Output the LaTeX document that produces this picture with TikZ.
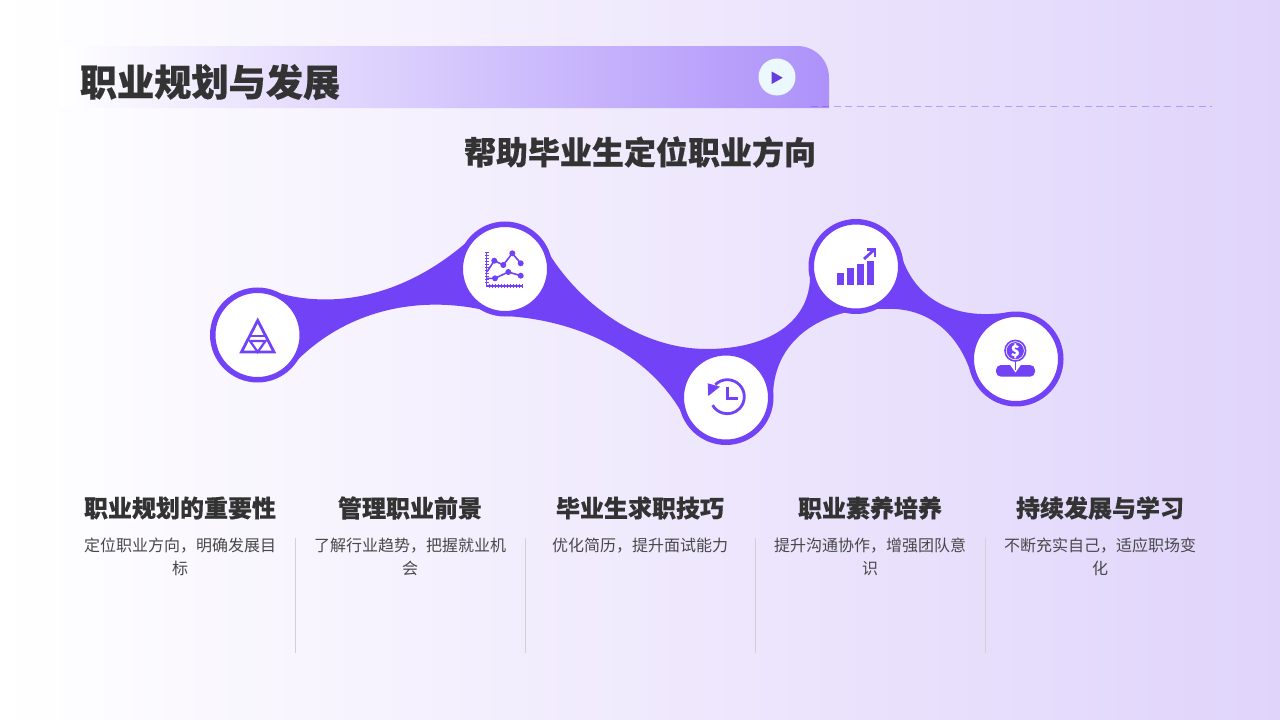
\documentclass[tikz,border=0pt]{standalone}
\usepackage{fontspec}
\setmainfont[BoldFeatures={FakeBold=0.4}]{Noto Sans CJK SC}
\usepackage{tikz}
\usetikzlibrary{positioning}
\usetikzlibrary{calc}
\definecolor{accent}{HTML}{7242F6}
\definecolor{bgmid}{HTML}{F3EFFD}
\definecolor{bgend}{HTML}{E0D4FB}
\definecolor{ink}{HTML}{333333}
\definecolor{bodyink}{HTML}{484848}
\tikzset{
  hub/.style={circle,fill=white,draw=accent,line width=5.5pt,minimum size=89.5pt,inner sep=0pt,outer sep=0pt},
  headtext/.style={font=\fontsize{24}{28}\selectfont\bfseries,text=ink,inner sep=0pt},
  bodytext/.style={font=\fontsize{16}{23}\selectfont,text=bodyink,align=center,inner sep=0pt,anchor=north},
  divider/.style={draw=black!18,line width=.9pt},
  iconline/.style={draw=accent,line width=2.8pt,line join=miter}
}

\begin{document}
\begin{tikzpicture}[x=1pt,y=-1pt]
\useasboundingbox (0,0) rectangle (1280,720);
\shade[left color=white,middle color=bgmid,right color=bgend] (0,0) rectangle (1280,720);
% title banner
\shade[left color=white,right color=accent!58!white] (60,108) -- (60,46) -- (797,46)
  .. controls (815,46) and (829,60) .. (829,78) -- (829,108) -- cycle;
\draw[draw=accent,opacity=.42,line width=1.2pt,dash pattern=on 7pt off 4.4pt] (811,106.5) -- (1212,106.5);
\node[circle,fill=white!92!cyan,minimum size=37pt,inner sep=0pt] (playdot) at (777,77) {};
\fill[accent!90!black] (771.7,71.5) -- (782.7,77.7) -- (771.7,84) -- cycle;
\node[font=\fontsize{37.2}{40}\selectfont\bfseries,text=ink,inner sep=0pt] (maintitle) at (210,82) {职业规划与发展};
\node[font=\fontsize{32}{36}\selectfont\bfseries,text=ink,inner sep=0pt] (subtitle) at (640,152) {帮助毕业生定位职业方向};
% purple band
\fill[accent] (268,289) .. controls (295,301) and (380,318) .. (468,241)
  -- (505,269) -- (540,237)
  .. controls (565,290) and (630,349) .. (707,349)
  .. controls (770,349) and (818,320) .. (809,262)
  -- (856,266) -- (902.5,259)
  .. controls (915,295) and (950,322) .. (1010,312)
  -- (1016,359) -- (971,373)
  .. controls (955,325) and (920,307) .. (885,309)
  .. controls (830,306) and (773,335) .. (773,397)
  -- (726,397) -- (683,415)
  .. controls (650,355) and (580,320) .. (505,316)
  .. controls (440,294) and (350,300) .. (288,370)
  -- cycle;
\node[hub] (hubone) at (257.5,335) {};
\node[hub] (hubtwo) at (505,269) {};
\node[hub] (hubthree) at (726,397.5) {};
\node[hub] (hubfour) at (856,266.5) {};
\node[hub] (hubfive) at (1016,359) {};
% triangle icon
\draw[iconline] (257.7,320.5) -- (241.5,352) -- (274,352) -- cycle;
\draw[iconline,line width=2.2pt] (250,341) -- (265.5,341) -- (257.7,352) -- cycle;
\draw[iconline,line width=2.2pt] (249.7,336) -- (265.7,336);
% line chart icon
\draw[accent,line width=1.4pt] (486.7,251.7) -- (486.7,286) -- (523.3,286);
\draw[accent,line width=4pt,dash pattern=on 1pt off 2pt] (486.7,252) -- (486.7,284);
\draw[accent,line width=4pt,dash pattern=on 1pt off 2pt] (489,286) -- (523.3,286);
\draw[accent,line width=1.6pt] (487,271.7) -- (494.3,260.7) -- (503.3,265) -- (512.3,253.3) -- (520.7,263.3);
\draw[accent,line width=1.6pt] (487,278.3) -- (495,278.3) -- (508.3,272) -- (520.7,275.7);
\fill[accent] (494.3,260.7) circle[radius=3pt] (503.3,265) circle[radius=3pt] (512.3,253.3) circle[radius=3pt] (520.7,263.3) circle[radius=3pt];
\fill[accent] (495,278.3) circle[radius=3pt] (508.3,272) circle[radius=3pt] (520.7,275.7) circle[radius=3pt];
% clock icon
\coordinate (clockmid) at (727.3,396.7);
\draw[accent,line width=2.8pt] ([shift={(135:17pt)}]clockmid) arc[start angle=135,end angle=-150,radius=17pt];
\fill[accent] (707.7,383.3) -- (720,386.7) -- (708.3,396) -- cycle;
\draw[accent,line width=2.6pt] (727.3,386.7) -- (727.3,398.3) -- (738.3,398.3);
% bars icon
\fill[accent] (837,273.3) rectangle (844,285.3);
\fill[accent] (847.3,268.3) rectangle (854,285.3);
\fill[accent] (857.3,264) rectangle (864,285.3);
\fill[accent] (867.3,260.7) rectangle (874,285.3);
\draw[iconline] (864,259) -- (874.5,249.5);
\draw[iconline] (866.5,249.5) -- (875,249.5) -- (875,257);
% money icon
\draw[accent,line width=1.6pt] (1015.3,350.7) circle[radius=10.3pt];
\node[circle,fill=accent,minimum size=15.5pt,inner sep=0pt,text=white,font=\fontsize{15}{15}\selectfont\bfseries] (coin) at (1015.3,350.7) {\$};
\fill[accent,rounded corners=5pt] (996,365) rectangle (1035,376.7);
\fill[white] (1009.5,364) -- (1021.5,364) -- (1015.5,372.5) -- cycle;
\draw[accent,line width=1.2pt] (1015.5,362) -- (1015.5,370);
% captions
\node[headtext] (headone) at (180,508) {职业规划的重要性};
\node[headtext] (headtwo) at (410,508) {管理职业前景};
\node[headtext] (headthree) at (640,508) {毕业生求职技巧};
\node[headtext] (headfour) at (870,508) {职业素养培养};
\node[headtext] (headfive) at (1100,508) {持续发展与学习};
\node[bodytext] (bodyone) at (180,538) {定位职业方向，明确发展目\\标};
\node[bodytext] (bodytwo) at (410,538) {了解行业趋势，把握就业机\\会};
\node[bodytext] (bodythree) at (640,538) {优化简历，提升面试能力};
\node[bodytext] (bodyfour) at (870,538) {提升沟通协作，增强团队意\\识};
\node[bodytext] (bodyfive) at (1100,538) {不断充实自己，适应职场变\\化};
\draw[divider] (295,538) -- (295,653);
\draw[divider] (525,538) -- (525,653);
\draw[divider] (755,538) -- (755,653);
\draw[divider] (985,538) -- (985,653);
\end{tikzpicture}
\end{document}
